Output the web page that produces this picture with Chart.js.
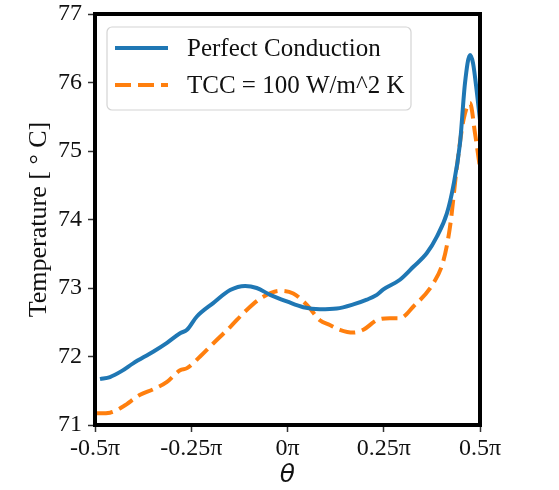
<!DOCTYPE html>
<html>
<head>
<meta charset="utf-8">
<script src="https://cdn.jsdelivr.net/npm/chart.js@4/dist/chart.umd.min.js"></script>
<style>
  html, body { margin: 0; padding: 0; background: #fff; }
  #wrap { width: 559px; height: 490px; }
</style>
</head>
<body>
<div id="wrap"><canvas id="c" width="559" height="490"></canvas></div>
<script>
// Angular position (in units of pi) and temperature for each case
const thetaPerfect = [-0.487, -0.461, -0.430, -0.401, -0.349, -0.313, -0.279, -0.261, -0.236, -0.193, -0.149, -0.110, -0.080, -0.045, 0.0, 0.041, 0.084, 0.128, 0.171, 0.206, 0.232, 0.249, 0.292, 0.327, 0.362, 0.388, 0.414, 0.430, 0.448, 0.461, 0.474, 0.482, 0.492, 0.500];
const tempPerfect  = [71.67, 71.70, 71.79, 71.90, 72.07, 72.20, 72.34, 72.39, 72.58, 72.78, 72.97, 73.03, 73.00, 72.90, 72.80, 72.72, 72.69, 72.70, 72.76, 72.83, 72.90, 72.98, 73.12, 73.31, 73.51, 73.75, 74.09, 74.47, 75.11, 75.99, 76.40, 76.28, 75.85, 75.45];

const thetaTcc = [-0.495, -0.461, -0.427, -0.383, -0.349, -0.313, -0.279, -0.261, -0.227, -0.193, -0.149, -0.106, -0.064, -0.019, 0.015, 0.051, 0.084, 0.110, 0.136, 0.171, 0.197, 0.232, 0.266, 0.292, 0.327, 0.379, 0.405, 0.422, 0.440, 0.457, 0.474, 0.487, 0.500];
const tempTcc  = [71.17, 71.18, 71.27, 71.44, 71.52, 71.63, 71.80, 71.83, 72.00, 72.19, 72.43, 72.68, 72.87, 72.96, 72.92, 72.75, 72.53, 72.46, 72.39, 72.35, 72.39, 72.53, 72.56, 72.56, 72.73, 73.07, 73.40, 73.89, 74.77, 75.45, 75.70, 75.26, 74.75];

const seriesLabels = ['Perfect Conduction', 'TCC = 100 W/m^2 K'];
const xTickValues = [-0.5, -0.25, 0, 0.25, 0.5];
const yTickValues = [71, 72, 73, 74, 75, 76, 77];

const toPoints = (xs, ys) => xs.map((x, i) => ({ x: x, y: ys[i] }));

const SERIF = '"Liberation Serif", "Times New Roman", serif';

// Thick black frame around the plotting area
const framePlugin = {
  id: 'frame',
  afterDatasetsDraw(chart) {
    const a = chart.chartArea, ctx = chart.ctx;
    ctx.save();
    ctx.strokeStyle = '#000';
    ctx.lineWidth = 4;
    ctx.strokeRect(a.left, a.top, a.right - a.left, a.bottom - a.top);
    ctx.restore();
  }
};

// Legend box drawn inside the upper-left of the plotting area
const innerLegend = {
  id: 'innerLegend',
  afterDraw(chart) {
    const ctx = chart.ctx, a = chart.chartArea;
    const x0 = a.left + 12, y0 = a.top + 13, w = 304, h = 83, r = 5;
    ctx.save();
    ctx.beginPath();
    ctx.moveTo(x0 + r, y0);
    ctx.arcTo(x0 + w, y0, x0 + w, y0 + h, r);
    ctx.arcTo(x0 + w, y0 + h, x0, y0 + h, r);
    ctx.arcTo(x0, y0 + h, x0, y0, r);
    ctx.arcTo(x0, y0, x0 + w, y0, r);
    ctx.closePath();
    ctx.fillStyle = 'rgba(255,255,255,0.8)';
    ctx.fill();
    ctx.strokeStyle = '#d4d4d4';
    ctx.lineWidth = 1.2;
    ctx.stroke();

    chart.data.datasets.forEach((ds, i) => {
      const yy = y0 + 21 + i * 37;
      ctx.beginPath();
      ctx.setLineDash(ds.borderDash || []);
      ctx.strokeStyle = ds.borderColor;
      ctx.lineWidth = ds.borderWidth;
      ctx.moveTo(x0 + 8, yy);
      ctx.lineTo(x0 + 61, yy);
      ctx.stroke();
      ctx.setLineDash([]);
      ctx.fillStyle = '#111';
      ctx.font = '25px ' + SERIF;
      ctx.textBaseline = 'middle';
      ctx.textAlign = 'left';
      ctx.fillText(ds.label, x0 + 80, yy + 1);
    });
    ctx.restore();
  }
};

new Chart(document.getElementById('c'), {
  type: 'line',
  data: {
    datasets: [
      {
        label: seriesLabels[0],
        data: toPoints(thetaPerfect, tempPerfect),
        borderColor: '#1f77b4',
        borderWidth: 4,
        pointRadius: 0,
        cubicInterpolationMode: 'monotone',
        fill: false
      },
      {
        label: seriesLabels[1],
        data: toPoints(thetaTcc, tempTcc),
        borderColor: '#ff7f0e',
        borderWidth: 4,
        borderDash: [16, 7],
        pointRadius: 0,
        cubicInterpolationMode: 'monotone',
        fill: false
      }
    ]
  },
  options: {
    responsive: false,
    animation: false,
    layout: { padding: { left: 0, top: 14, right: 79, bottom: 0 } },
    plugins: { legend: { display: false }, tooltip: { enabled: false } },
    scales: {
      x: {
        type: 'linear',
        min: -0.5,
        max: 0.5,
        afterBuildTicks(scale) { scale.ticks = xTickValues.map(v => ({ value: v })); },
        afterFit(scale) { scale.height = 65; scale.paddingLeft = 0; scale.paddingRight = 0; },
        border: { display: false },
        grid: { drawOnChartArea: false, drawTicks: true, tickLength: 7, tickWidth: 1.5, tickColor: '#333' },
        ticks: {
          color: '#111',
          padding: 2,
          maxRotation: 0,
          font: { family: SERIF, size: 24 },
          callback: v => v + 'π'
        },
        title: {
          display: true,
          text: 'θ',
          color: '#111',
          padding: { top: 0, bottom: 0 },
          font: { family: '"DejaVu Sans"', size: 25, style: 'italic' }
        }
      },
      y: {
        type: 'linear',
        min: 71,
        max: 77,
        afterBuildTicks(scale) { scale.ticks = yTickValues.map(v => ({ value: v })); },
        afterFit(scale) { scale.width = 95; scale.paddingTop = 0; scale.paddingBottom = 0; },
        border: { display: false },
        grid: { drawOnChartArea: false, drawTicks: true, tickLength: 7, tickWidth: 1.5, tickColor: '#333' },
        ticks: {
          color: '#111',
          padding: 6,
          font: { family: SERIF, size: 24 },
          callback: v => String(v)
        },
        title: {
          display: true,
          text: 'Temperature [ ° C]',
          color: '#111',
          padding: { top: 24, bottom: 0 },
          font: { family: SERIF, size: 26 }
        }
      }
    }
  },
  plugins: [framePlugin, innerLegend]
});
</script>
</body>
</html>
